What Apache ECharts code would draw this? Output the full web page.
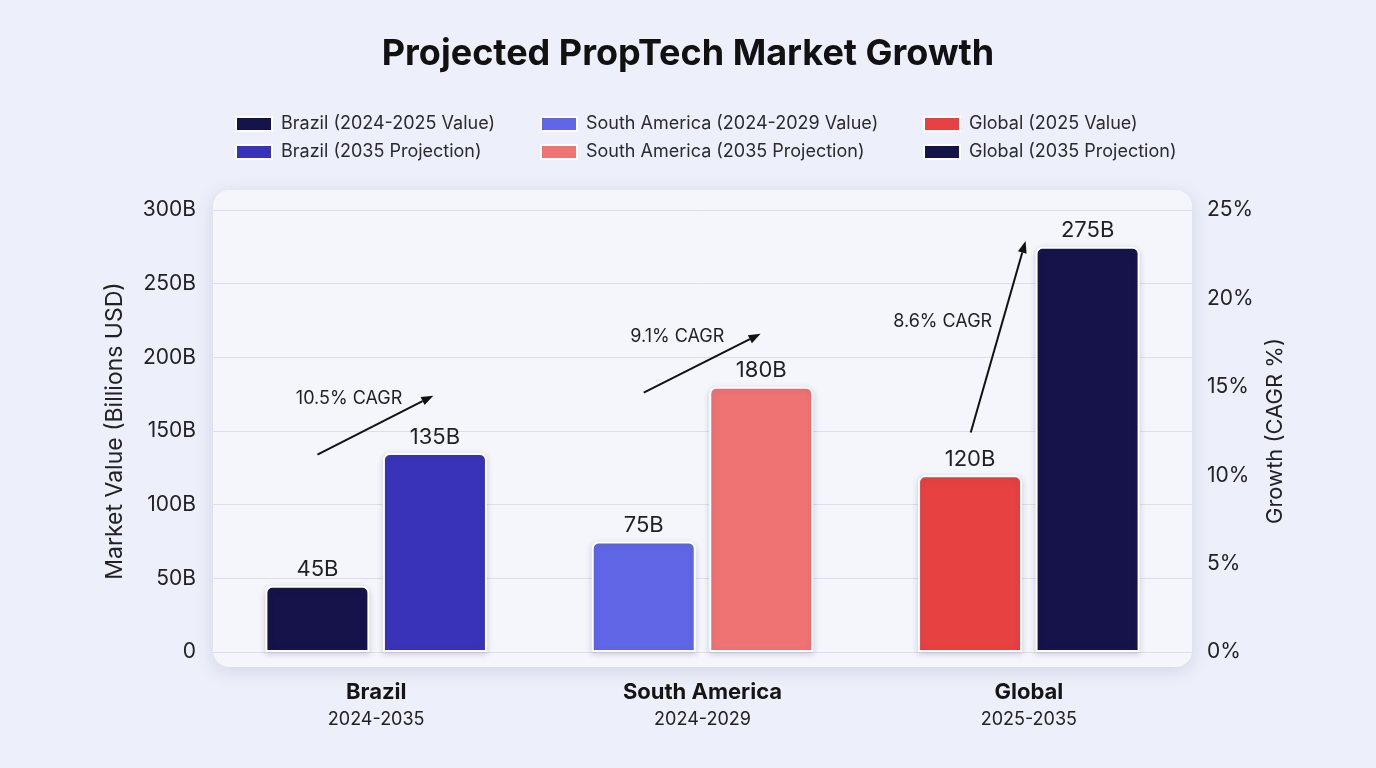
<!DOCTYPE html>
<html>
<head>
<meta charset="utf-8">
<title>Projected PropTech Market Growth</title>
<script src="https://cdn.jsdelivr.net/npm/echarts@6/dist/echarts.min.js"></script>
<style>
    html, body { margin: 0; padding: 0; background: #edf0fa; }
    #chart { width: 1376px; height: 768px; }
</style>
</head>
<body>
<div id="chart"></div>
<script>
// categories and period captions
var regions = ['Brazil', 'South America', 'Global'];
var periods = ['2024-2035', '2024-2029', '2025-2035'];

// market values (billions USD)
var brazilCurrent = [45, '-', '-'];
var brazilProjection = [135, '-', '-'];
var southAmericaCurrent = ['-', 75, '-'];
var southAmericaProjection = ['-', 180, '-'];
var globalCurrent = ['-', '-', 120];
var globalProjection = ['-', '-', 275];

// growth annotations
var cagrText = ['10.5% CAGR', '9.1% CAGR', '8.6% CAGR'];

// axis ticks
var valueTicks = [0, 50, 100, 150, 200, 250, 300];
var growthTicks = [0, 5, 10, 15, 20, 25];

var FONT = 'Inter, "Noto Sans", sans-serif';

var myChart = echarts.init(document.getElementById('chart'), null, {renderer: 'canvas'});

function barSeries(name, stack, data, color) {
    return {
        name: name,
        type: 'bar',
        stack: stack,
        data: data,
        barWidth: 104,
        barGap: '13%',
        itemStyle: {
            color: color,
            borderColor: '#ffffff',
            borderWidth: 2,
            borderRadius: [6, 6, 0, 0],
            shadowColor: 'rgba(40,40,90,0.18)',
            shadowBlur: 6,
            shadowOffsetY: 2
        },
        label: {
            show: true,
            position: 'top',
            distance: 5,
            fontFamily: FONT,
            fontSize: 22,
            color: '#1f1f24',
            formatter: function (p) { return p.value + 'B'; }
        }
    };
}

function legendBlock(left, names) {
    return {
        orient: 'vertical',
        left: left,
        top: 110,
        itemWidth: 36,
        itemHeight: 14,
        itemGap: 10,
        icon: 'rect',
        selectedMode: false,
        textStyle: {fontFamily: FONT, fontSize: 18, color: '#2a2a30', padding: [0, 0, 0, 4]},
        data: names
    };
}

var option = {
    backgroundColor: '#edf0fa',
    textStyle: {fontFamily: FONT},
    title: {
        text: 'Projected PropTech Market Growth',
        left: 'center',
        top: 31,
        textStyle: {fontFamily: FONT, fontSize: 36, fontWeight: 'bold', color: '#111111'}
    },
    legend: [
        legendBlock(230, ['Brazil (2024-2025 Value)', 'Brazil (2035 Projection)']),
        legendBlock(535, ['South America (2024-2029 Value)', 'South America (2035 Projection)']),
        legendBlock(918, ['Global (2025 Value)', 'Global (2035 Projection)'])
    ],
    grid: {left: 213, right: 184, top: 210, bottom: 116},
    graphic: [],
    xAxis: {
        type: 'category',
        data: regions,
        axisLine: {show: false},
        axisTick: {show: false},
        axisLabel: {
            margin: 26,
            formatter: function (v, i) {
                return '{a|' + v + '}\n{b|' + periods[i] + '}';
            },
            rich: {
                a: {fontFamily: FONT, fontSize: 22, fontWeight: 'bold', color: '#151518', lineHeight: 28},
                b: {fontFamily: FONT, fontSize: 18, color: '#222226', lineHeight: 28}
            }
        }
    },
    yAxis: [
        {
            type: 'value',
            min: valueTicks[0],
            max: valueTicks[valueTicks.length - 1],
            interval: 50,
            name: 'Market Value (Billions USD)',
            nameLocation: 'middle',
            nameGap: 86,
            nameTextStyle: {fontFamily: FONT, fontSize: 23, color: '#222226'},
            axisLine: {show: false},
            axisTick: {show: false},
            axisLabel: {
                margin: 17,
                fontFamily: FONT,
                fontSize: 21,
                color: '#222226',
                formatter: function (v) { return v === 0 ? '0' : v + 'B'; }
            },
            splitLine: {lineStyle: {color: '#dcdfea', width: 1}}
        },
        {
            type: 'value',
            min: growthTicks[0],
            max: growthTicks[growthTicks.length - 1],
            interval: 5,
            position: 'right',
            name: 'Growth (CAGR %)',
            nameLocation: 'middle',
            nameGap: 68,
            nameRotate: 90,
            nameTextStyle: {fontFamily: FONT, fontSize: 22, color: '#222226'},
            axisLine: {show: false},
            axisTick: {show: false},
            axisLabel: {
                margin: 15,
                fontFamily: FONT,
                fontSize: 21,
                color: '#222226',
                formatter: '{value}%'
            },
            splitLine: {show: false}
        }
    ],
    series: [
        barSeries('Brazil (2024-2025 Value)', 'current', brazilCurrent, '#15134a'),
        barSeries('Brazil (2035 Projection)', 'projection', brazilProjection, '#3833b8'),
        barSeries('South America (2024-2029 Value)', 'current', southAmericaCurrent, '#5f67e6'),
        barSeries('South America (2035 Projection)', 'projection', southAmericaProjection, '#f07373'),
        barSeries('Global (2025 Value)', 'current', globalCurrent, '#e84142'),
        barSeries('Global (2035 Projection)', 'projection', globalProjection, '#15134a')
    ]
};

myChart.setOption(option);

// arrow layout: offset in category bands, height on the value axis
var arrowLayout = [
    {from: [-0.18, 134], to: [0.175, 174], text: [-0.083, 172]},
    {from: [-0.18, 176], to: [0.178, 216], text: [-0.077, 214]},
    {from: [-0.178, 149], to: [-0.01, 279], text: [-0.264, 224]}
];

function toPixel(i, pos) {
    var p = myChart.convertToPixel({xAxisIndex: 0, yAxisIndex: 0}, [i, pos[1]]);
    var a = myChart.convertToPixel({xAxisIndex: 0, yAxisIndex: 0}, [0, 0]);
    var b = myChart.convertToPixel({xAxisIndex: 0, yAxisIndex: 0}, [1, 0]);
    return [p[0] + pos[0] * (b[0] - a[0]), p[1]];
}

var graphics = [{
    type: 'rect',
    z: -10,
    silent: true,
    shape: {x: 213, y: 190, width: 979, height: 477, r: 16},
    style: {
        fill: '#f5f6fc',
        shadowColor: 'rgba(60,70,120,0.16)',
        shadowBlur: 18,
        shadowOffsetY: 4
    }
}];

arrowLayout.forEach(function (a, i) {
    var s = toPixel(i, a.from);
    var e = toPixel(i, a.to);
    var t = toPixel(i, a.text);
    var dx = e[0] - s[0], dy = e[1] - s[1];
    var len = Math.sqrt(dx * dx + dy * dy);
    var ux = dx / len, uy = dy / len;
    var head = 12, half = 4.5;
    var bx = e[0] - ux * head, by = e[1] - uy * head;
    graphics.push({
        type: 'line',
        silent: true,
        z: 50,
        shape: {x1: s[0], y1: s[1], x2: bx, y2: by},
        style: {stroke: '#111111', lineWidth: 2}
    });
    graphics.push({
        type: 'polygon',
        silent: true,
        z: 50,
        shape: {points: [[e[0], e[1]], [bx - uy * half, by + ux * half], [bx + uy * half, by - ux * half]]},
        style: {fill: '#111111'}
    });
    graphics.push({
        type: 'text',
        silent: true,
        z: 50,
        x: t[0],
        y: t[1],
        style: {
            text: cagrText[i],
            fontFamily: FONT,
            fontSize: 18,
            fill: '#1f1f24',
            align: 'center',
            verticalAlign: 'middle'
        }
    });
});

myChart.setOption({graphic: graphics});
</script>
</body>
</html>
